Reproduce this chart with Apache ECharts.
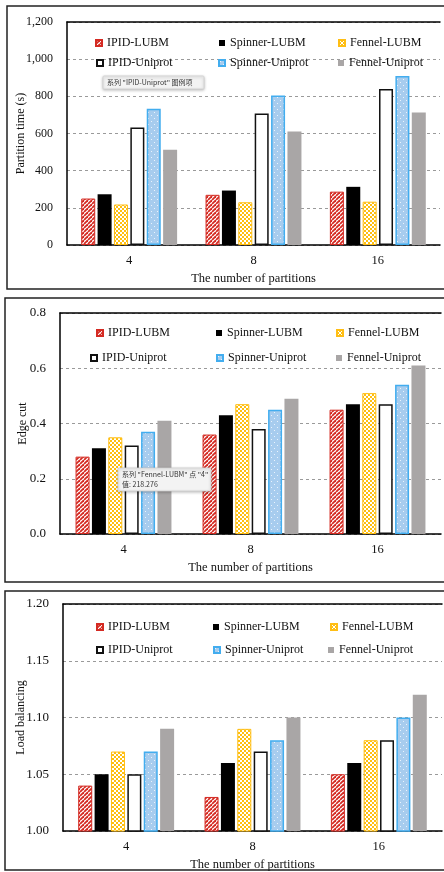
<!DOCTYPE html>
<html>
<head>
<meta charset="utf-8">
<script src="https://cdn.jsdelivr.net/npm/echarts@6/dist/echarts.min.js"></script>
<style>html,body{margin:0;padding:0;background:#fff}#c{width:444px;height:872px}</style>
</head>
<body>
<div id="c"></div>
<script>
// ---- data ----
var categories = ['4', '8', '16'];
var seriesNames = ['IPID-LUBM', 'Spinner-LUBM', 'Fennel-LUBM', 'IPID-Uniprot', 'Spinner-Uniprot', 'Fennel-Uniprot'];

// Panel 1: Partition time (s)
var timeIPIDLUBM = [250, 270, 287];
var timeSpinnerLUBM = [273, 293, 313];
var timeFennelLUBM = [218, 230, 233];
var timeIPIDUniprot = [632, 708, 839];
var timeSpinnerUniprot = [733, 805, 909];
var timeFennelUniprot = [512, 611, 713];

// Panel 2: Edge cut
var cutIPIDLUBM = [0.28, 0.36, 0.45];
var cutSpinnerLUBM = [0.31, 0.43, 0.47];
var cutFennelLUBM = [0.35, 0.47, 0.51];
var cutIPIDUniprot = [0.32, 0.38, 0.47];
var cutSpinnerUniprot = [0.37, 0.45, 0.54];
var cutFennelUniprot = [0.41, 0.49, 0.61];

// Panel 3: Load balancing
var lbIPIDLUBM = [1.04, 1.03, 1.05];
var lbSpinnerLUBM = [1.05, 1.06, 1.06];
var lbFennelLUBM = [1.07, 1.09, 1.08];
var lbIPIDUniprot = [1.05, 1.07, 1.08];
var lbSpinnerUniprot = [1.07, 1.08, 1.10];
var lbFennelUniprot = [1.09, 1.10, 1.12];

// axis ranges
var timeAxis = {min: 0, max: 1200, interval: 200};
var cutAxis = {min: 0, max: 0.8, interval: 0.2};
var lbAxis = {min: 1.0, max: 1.2, interval: 0.05};

// ---- patterns ----
function mk(w, h, draw) {
  var c = document.createElement('canvas');
  c.width = w; c.height = h;
  var g = c.getContext('2d');
  draw(g, w, h);
  return {image: c, repeat: 'repeat'};
}
var hatchRed = mk(4, 4, function (g, s) {
  g.fillStyle = '#fff'; g.fillRect(0, 0, s, s);
  g.strokeStyle = '#D42A22'; g.lineWidth = 1.8;
  for (var k = -s; k <= s; k += s) {
    g.beginPath(); g.moveTo(k, s); g.lineTo(k + s, 0); g.stroke();
  }
});
var checkYellow = mk(4, 4, function (g) {
  g.fillStyle = '#FFBF10'; g.fillRect(0, 0, 4, 4);
  g.fillStyle = '#FFFFFF';
  g.fillRect(0, 0, 2, 2); g.fillRect(2, 2, 2, 2);
});
var dotsBlue = mk(6, 6, function (g) {
  g.fillStyle = '#A7CCEE'; g.fillRect(0, 0, 6, 6);
  g.fillStyle = '#EAF3FC';
  g.fillRect(1, 1, 1, 1); g.fillRect(4, 4, 1, 1);
});

var styles = [
  {color: hatchRed, borderColor: '#D42A22', borderWidth: 1},
  {color: '#000000', borderColor: '#000', borderWidth: 0},
  {color: checkYellow, borderColor: '#FFBE14', borderWidth: 1},
  {color: '#ffffff', borderColor: '#111', borderWidth: 1.5},
  {color: dotsBlue, borderColor: '#42ADEF', borderWidth: 1.5},
  {color: '#A9A6A6', borderColor: '#A9A6A6', borderWidth: 0}
];

var panelData = [
  [timeIPIDLUBM, timeSpinnerLUBM, timeFennelLUBM, timeIPIDUniprot, timeSpinnerUniprot, timeFennelUniprot],
  [cutIPIDLUBM, cutSpinnerLUBM, cutFennelLUBM, cutIPIDUniprot, cutSpinnerUniprot, cutFennelUniprot],
  [lbIPIDLUBM, lbSpinnerLUBM, lbFennelLUBM, lbIPIDUniprot, lbSpinnerUniprot, lbFennelUniprot]
];
var panelAxes = [timeAxis, cutAxis, lbAxis];
var yNames = ['Partition time (s)', 'Edge cut', 'Load balancing'];
var yFormat = [
  function (v) { return v >= 1000 ? Math.floor(v / 1000) + ',' + String(v % 1000).padStart(3, '0') : String(v); },
  function (v) { return v.toFixed(1); },
  function (v) { return v.toFixed(2); }
];

// layout per panel
var layout = [
  {left: 67, top: 22, width: 373, height: 223, yNameGap: 40, tickSize: 12,
   legendRows: [43, 63], legendCols: [[106, 230, 349], [107, 229, 349]]},
  {left: 60, top: 313, width: 381, height: 221, yNameGap: 31, tickSize: 13,
   legendRows: [333, 358], legendCols: [[107, 227, 347], [101, 227, 347]]},
  {left: 63, top: 604, width: 379, height: 227, yNameGap: 36, tickSize: 13,
   legendRows: [627, 650], legendCols: [[107, 224, 341], [107, 224, 339]]}
];

var FONT = '"Liberation Serif", "Times New Roman", serif';
var grids = [], xAxes = [], yAxes = [], series = [], legends = [];

layout.forEach(function (L, p) {
  grids.push({left: L.left, top: L.top, width: L.width, height: L.height, containLabel: false});
  xAxes.push({
    type: 'category', gridIndex: p, data: categories,
    axisLine: {lineStyle: {color: '#000', width: 1.5}},
    axisTick: {show: false},
    axisLabel: {color: '#111', fontFamily: FONT, fontSize: 12.5, margin: 9},
    name: 'The number of partitions', nameLocation: 'middle', nameGap: 27, nameMoveOverlap: false,
    nameTextStyle: {color: '#111', fontFamily: FONT, fontSize: 12.5}
  });
  xAxes.push({
    type: 'category', gridIndex: p, data: categories, position: 'top',
    axisLine: {show: true, lineStyle: {color: '#000', width: 1.5}},
    axisTick: {show: false}, axisLabel: {show: false}, splitLine: {show: false}
  });
  var ax = panelAxes[p];
  yAxes.push({
    type: 'value', gridIndex: p, min: ax.min, max: ax.max, interval: ax.interval,
    axisLine: {show: true, lineStyle: {color: '#000', width: 1.5}},
    axisTick: {show: false},
    axisLabel: {color: '#111', fontFamily: FONT, fontSize: L.tickSize, margin: 14, formatter: yFormat[p]},
    splitLine: {show: true, lineStyle: {color: '#9a9a9a', type: [3, 3], width: 1}},
    name: yNames[p], nameLocation: 'middle', nameGap: L.yNameGap, nameMoveOverlap: false,
    nameTextStyle: {color: '#111', fontFamily: FONT, fontSize: 12}
  });
  seriesNames.forEach(function (nm, i) {
    series.push({
      type: 'bar', name: nm, xAxisIndex: p * 2, yAxisIndex: p,
      data: panelData[p][i], barWidth: 14, barGap: '17%',
      itemStyle: styles[i], emphasis: {disabled: true}, silent: true
    });
    var r = Math.floor(i / 3), c = i % 3;
    legends.push({
      data: [nm], left: L.legendCols[r][c] - 11, top: L.legendRows[r] - 7,
      padding: 0, itemWidth: 6, itemHeight: 6, icon: 'rect',
      textStyle: {color: '#111', fontFamily: FONT, fontSize: 12, lineHeight: 14},
      selectedMode: false
    });
  });
});

function frame(x, y, w, h) {
  return {type: 'rect', shape: {x: x, y: y, width: w, height: h},
    style: {fill: 'none', stroke: '#222', lineWidth: 1.5}, z: 100, silent: true};
}
function tip(x, y, w, h, lines) {
  var els = [{type: 'rect', shape: {x: x, y: y, width: w, height: h, r: 1}, z: 200, silent: true,
    style: {fill: '#F3F3F3', stroke: '#cfcfcf', lineWidth: 0.8, shadowBlur: 3, shadowColor: 'rgba(0,0,0,0.25)', shadowOffsetY: 1}}];
  lines.forEach(function (t, k) {
    els.push({type: 'text', x: x + 4, y: y + 6.5 + k * 10, z: 201, silent: true,
      style: {text: t, fill: '#333', font: '7px "Noto Sans CJK SC", sans-serif', verticalAlign: 'middle'}});
  });
  return els;
}

var chart = echarts.init(document.getElementById('c'), null, {renderer: 'canvas'});
chart.setOption({
  animation: false,
  backgroundColor: '#fff',
  grid: grids, xAxis: xAxes, yAxis: yAxes, series: series, legend: legends,
  tooltip: {show: false},
  graphic: [
    frame(7, 6, 445, 283),
    frame(5, 298, 447, 284),
    frame(5, 591, 447, 279)
  ].concat(
    tip(103, 76, 101, 13, ['系列 "IPID-Uniprot" 图例项']),
    tip(118, 468, 93, 23, ['系列 "Fennel-LUBM" 点 "4"', '值: 218.276'])
  )
});
</script>
</body>
</html>
